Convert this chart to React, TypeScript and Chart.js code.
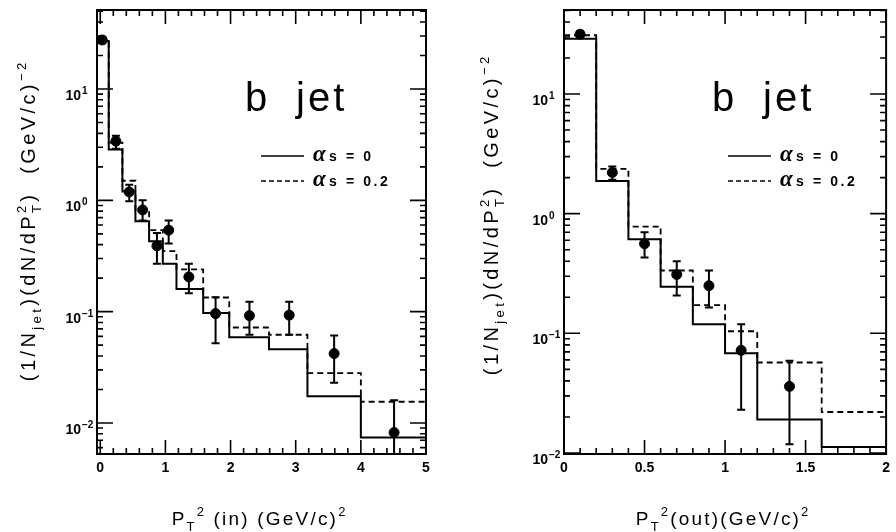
import React, { useEffect, useRef } from "react";
import { Chart, registerables } from "chart.js";
Chart.register(...registerables);

// ---------- data: left panel, PT^2 (in) ----------
const inEdges = [0, 0.13, 0.34, 0.54, 0.75, 0.96, 1.17, 1.58, 1.98, 2.59, 3.18, 4.0, 5.0];
const inSolid = [27, 2.86, 1.2, 0.65, 0.43, 0.27, 0.16, 0.097, 0.059, 0.046, 0.0174, 0.0074];
const inDashed = [27.5, 3.3, 1.5, 0.81, 0.54, 0.35, 0.24, 0.134, 0.072, 0.062, 0.028, 0.0155];
const inPointX = [0.03, 0.24, 0.445, 0.65, 0.87, 1.05, 1.36, 1.77, 2.29, 2.9, 3.59, 4.51];
const inPointY = [27.6, 3.4, 1.19, 0.82, 0.39, 0.54, 0.205, 0.096, 0.092, 0.093, 0.042, 0.0082];
const inErrHigh = [29.5, 3.8, 1.38, 1.0, 0.51, 0.66, 0.27, 0.135, 0.123, 0.123, 0.061, 0.016];
const inErrLow = [25.8, 2.9, 0.98, 0.66, 0.27, 0.41, 0.146, 0.052, 0.062, 0.062, 0.023, 0.004];
const inXTicks = [0, 1, 2, 3, 4, 5];

// ---------- data: right panel, PT^2 (out) ----------
const outEdges = [0, 0.2, 0.4, 0.6, 0.8, 1.0, 1.2, 1.6, 2.0];
const outSolid = [29, 1.88, 0.61, 0.245, 0.119, 0.068, 0.019, 0.0112];
const outDashed = [31, 2.37, 0.78, 0.335, 0.172, 0.104, 0.057, 0.022];
const outPointX = [0.1, 0.3, 0.5, 0.7, 0.9, 1.1, 1.4];
const outPointY = [31.6, 2.21, 0.56, 0.31, 0.25, 0.072, 0.036];
const outErrHigh = [33.5, 2.48, 0.7, 0.4, 0.335, 0.119, 0.059];
const outErrLow = [29.8, 1.92, 0.43, 0.207, 0.164, 0.023, 0.0118];
const outXTicks = [0, 0.5, 1, 1.5, 2];

const yDecades = [0.01, 0.1, 1, 10];
const panelLabel = "b";
const panelLabel2 = "jet";
const legendSolid = "s = 0";
const legendDashed = "s = 0.2";

const FONT = '"Liberation Sans", Arial, Helvetica, sans-serif';

type Seg = { t: string; k: "n" | "sub" | "sup" | "stack" };

const yTitleSegs: Seg[] = [
  { t: "(1/N", k: "n" },
  { t: "jet", k: "sub" },
  { t: ")(dN/dP", k: "n" },
  { t: "T", k: "sub" },
  { t: "2", k: "stack" },
  { t: ")  (GeV/c)", k: "n" },
  { t: "\u22122", k: "sup" },
];
const xTitleIn: Seg[] = [
  { t: "P", k: "n" },
  { t: "T", k: "sub" },
  { t: "2", k: "sup" },
  { t: " (in) (GeV/c)", k: "n" },
  { t: "2", k: "sup" },
];
const xTitleOut: Seg[] = [
  { t: "P", k: "n" },
  { t: "T", k: "sub" },
  { t: "2", k: "sup" },
  { t: "(out)(GeV/c)", k: "n" },
  { t: "2", k: "sup" },
];

function drawRich(ctx: CanvasRenderingContext2D, segs: Seg[], x0: number, y0: number, size: number, spacing: number, weight: string) {
  const items: { ch: string; x: number; dy: number; font: string }[] = [];
  let x = 0;
  let prevStart = 0;
  let prevEnd = 0;
  for (const s of segs) {
    const sz = s.k === "n" ? size : Math.round(size * 0.66);
    const font = `${weight} ${sz}px ${FONT}`;
    ctx.font = font;
    const start = s.k === "stack" ? prevStart : x;
    let cx = start;
    const dy = s.k === "sub" ? size * 0.3 : s.k === "sup" || s.k === "stack" ? -size * 0.45 : 0;
    for (const ch of s.t) {
      items.push({ ch, x: cx, dy, font });
      cx += ctx.measureText(ch).width + spacing;
    }
    if (s.k === "stack") {
      x = Math.max(prevEnd, cx);
    } else {
      prevStart = start;
      prevEnd = cx;
      x = cx;
    }
  }
  const w = x - spacing;
  const off = -w / 2;
  ctx.textAlign = "left";
  ctx.textBaseline = "alphabetic";
  for (const it of items) {
    ctx.font = it.font;
    ctx.fillText(it.ch, x0 + off + it.x, y0 + it.dy);
  }
}

function drawSpaced(ctx: CanvasRenderingContext2D, text: string, x: number, y: number, spacing: number) {
  let cx = x;
  for (const ch of text) {
    ctx.fillText(ch, cx, y);
    cx += ctx.measureText(ch).width + spacing;
  }
  return cx;
}

type Panel = {
  edges: number[];
  solid: number[];
  dashed: number[];
  px: number[];
  py: number[];
  hi: number[];
  lo: number[];
  xTicks: number[];
  xMin: number;
  xMax: number;
  yMin: number;
  yMax: number;
  xMajor: number;
  xMinor: number;
  yWidth: number;
  padRight: number;
  xTitle: Seg[];
  yTitleBase: number;
  yTitleCenter: number;
};

function hist(edges: number[], vals: number[]) {
  return edges.map((e, i) => ({ x: e, y: vals[Math.min(i, vals.length - 1)] }));
}

function makePlugin(p: Panel) {
  return {
    id: "decor",
    afterDatasetsDraw(chart: any) {
      const { ctx, chartArea: a, scales } = chart;
      const xs = scales.x;
      const ys = scales.y;
      // error bars
      ctx.save();
      ctx.beginPath();
      ctx.rect(a.left, a.top, a.right - a.left, a.bottom - a.top);
      ctx.clip();
      ctx.strokeStyle = "#000";
      ctx.lineWidth = 2;
      p.px.forEach((x, i) => {
        const X = xs.getPixelForValue(x);
        const Y1 = ys.getPixelForValue(p.hi[i]);
        const Y2 = ys.getPixelForValue(p.lo[i]);
        ctx.beginPath();
        ctx.moveTo(X, Y1);
        ctx.lineTo(X, Y2);
        ctx.stroke();
        ctx.beginPath();
        ctx.moveTo(X - 4, Y1);
        ctx.lineTo(X + 4, Y1);
        ctx.moveTo(X - 4, Y2);
        ctx.lineTo(X + 4, Y2);
        ctx.stroke();
      });
      ctx.restore();
    },
    afterDraw(chart: any) {
      const { ctx, chartArea: a, scales } = chart;
      const xs = scales.x;
      const ys = scales.y;
      ctx.save();
      ctx.strokeStyle = "#000";
      ctx.fillStyle = "#000";
      ctx.lineWidth = 2;
      ctx.strokeRect(a.left, a.top, a.right - a.left, a.bottom - a.top);
      // x ticks (inward, top and bottom)
      ctx.lineWidth = 1.6;
      const nMinor = Math.round((p.xMax - 0) / p.xMinor);
      for (let i = 0; i <= nMinor; i++) {
        const v = i * p.xMinor;
        if (v < p.xMin || v > p.xMax) continue;
        const X = xs.getPixelForValue(v);
        const isMajor = Math.abs(v / p.xMajor - Math.round(v / p.xMajor)) < 1e-6;
        const L = isMajor ? 14 : 6;
        ctx.beginPath();
        ctx.moveTo(X, a.bottom);
        ctx.lineTo(X, a.bottom - L);
        ctx.moveTo(X, a.top);
        ctx.lineTo(X, a.top + L);
        ctx.stroke();
      }
      // y ticks (inward, left and right)
      for (let d = -3; d <= 2; d++) {
        for (let m = 1; m <= 9; m++) {
          const v = m * Math.pow(10, d);
          if (v < p.yMin || v > p.yMax) continue;
          const Y = ys.getPixelForValue(v);
          const L = m === 1 ? 16 : 6;
          ctx.beginPath();
          ctx.moveTo(a.left, Y);
          ctx.lineTo(a.left + L, Y);
          ctx.moveTo(a.right, Y);
          ctx.lineTo(a.right - L, Y);
          ctx.stroke();
        }
      }
      // y tick labels 10^n
      yDecades.forEach((v) => {
        const Y = ys.getPixelForValue(v);
        const e = Math.round(Math.log10(v));
        ctx.font = `bold 14px ${FONT}`;
        ctx.textAlign = "right";
        ctx.textBaseline = "alphabetic";
        ctx.fillText("10", a.left - 16, Y + 11);
        ctx.font = `bold 10px ${FONT}`;
        ctx.textAlign = "left";
        ctx.fillText(e < 0 ? "\u2212" + String(-e) : String(e), a.left - 15, Y + 5);
      });
      // axis titles
      ctx.save();
      ctx.translate(a.left - p.yTitleBase, p.yTitleCenter);
      ctx.rotate(-Math.PI / 2);
      drawRich(ctx, yTitleSegs, 0, 0, 20, 3.4, "normal");
      ctx.restore();
      drawRich(ctx, p.xTitle, (a.left + a.right) / 2 - 3, 525, 19, 2.2, "normal");
      // panel label
      ctx.font = `normal 40px ${FONT}`;
      ctx.textAlign = "left";
      ctx.textBaseline = "alphabetic";
      ctx.fillText(panelLabel, a.left + 148, a.top + 101);
      drawSpaced(ctx, panelLabel2, a.left + 199, a.top + 101, 3);
      // legend
      const rows = [
        { text: legendSolid, dash: [] as number[] },
        { text: legendDashed, dash: [5, 3] },
      ];
      rows.forEach((r, i) => {
        const ly = a.top + 146 + i * 25;
        ctx.setLineDash(r.dash);
        ctx.lineWidth = 1.6;
        ctx.beginPath();
        ctx.moveTo(a.left + 164, ly);
        ctx.lineTo(a.left + 207, ly);
        ctx.stroke();
        ctx.setLineDash([]);
        ctx.font = `italic bold 23px "Liberation Serif", serif`;
        ctx.fillText("\u03b1", a.left + 216, ly + 5);
        ctx.font = `bold 14px ${FONT}`;
        drawSpaced(ctx, r.text, a.left + 232, ly + 5, 2.6);
      });
      ctx.restore();
    },
  };
}

function makeConfig(p: Panel): any {
  return {
    type: "scatter",
    data: {
      datasets: [
        {
          type: "line",
          data: hist(p.edges, p.solid),
          stepped: true,
          borderColor: "#000",
          borderWidth: 2,
          pointRadius: 0,
          fill: false,
        },
        {
          type: "line",
          data: hist(p.edges, p.dashed),
          stepped: true,
          borderColor: "#000",
          borderWidth: 1.8,
          borderDash: [6, 4],
          pointRadius: 0,
          fill: false,
        },
        {
          type: "scatter",
          data: p.px.map((x, i) => ({ x, y: p.py[i] })),
          pointRadius: 5,
          pointBackgroundColor: "#000",
          pointBorderColor: "#000",
          showLine: false,
        },
      ],
    },
    options: {
      animation: false,
      responsive: false,
      maintainAspectRatio: false,
      layout: { padding: { top: 10, right: p.padRight, left: 0, bottom: 0 } },
      plugins: { legend: { display: false }, tooltip: { enabled: false }, title: { display: false } },
      scales: {
        x: {
          type: "linear",
          min: p.xMin,
          max: p.xMax,
          afterBuildTicks: (s: any) => {
            s.ticks = p.xTicks.map((v) => ({ value: v }));
          },
          ticks: {
            font: { family: FONT, size: 14, weight: "bold" },
            color: "#000",
            padding: 6,
            maxRotation: 0,
            autoSkip: false,
            callback: (v: any) => String(v),
          },
          grid: { display: false, drawTicks: false },
          border: { display: false },
          afterFit: (s: any) => {
            s.height = 78;
          },
        },
        y: {
          type: "logarithmic",
          min: p.yMin,
          max: p.yMax,
          ticks: { display: false },
          grid: { display: false, drawTicks: false },
          border: { display: false },
          afterFit: (s: any) => {
            s.width = p.yWidth;
          },
        },
      },
    },
    plugins: [makePlugin(p)],
  };
}

const leftPanel: Panel = {
  edges: inEdges,
  solid: inSolid,
  dashed: inDashed,
  px: inPointX,
  py: inPointY,
  hi: inErrHigh,
  lo: inErrLow,
  xTicks: inXTicks,
  xMin: -0.05,
  xMax: 5,
  yMin: 0.00526,
  yMax: 51.3,
  xMajor: 1,
  xMinor: 0.2,
  yWidth: 97,
  padRight: 22,
  xTitle: xTitleIn,
  yTitleBase: 62,
  yTitleCenter: 222,
};

const rightPanel: Panel = {
  edges: outEdges,
  solid: outSolid,
  dashed: outDashed,
  px: outPointX,
  py: outPointY,
  hi: outErrHigh,
  lo: outErrLow,
  xTicks: outXTicks,
  xMin: 0,
  xMax: 2,
  yMin: 0.0098,
  yMax: 50.4,
  xMajor: 0.5,
  xMinor: 0.1,
  yWidth: 116,
  padRight: 4,
  xTitle: xTitleOut,
  yTitleBase: 66,
  yTitleCenter: 216,
};

function PanelChart({ panel, left }: { panel: Panel; left: number }) {
  const ref = useRef<HTMLCanvasElement>(null);
  useEffect(() => {
    if (!ref.current) return;
    const chart = new Chart(ref.current, makeConfig(panel));
    return () => chart.destroy();
  }, [panel]);
  return (
    <canvas
      ref={ref}
      width={448}
      height={532}
      style={{ position: "absolute", left, top: 0, width: 448, height: 532 }}
    />
  );
}

export default function App() {
  return (
    <div style={{ position: "absolute", left: 0, top: 0, width: 896, height: 532, background: "#fff", overflow: "hidden" }}>
      <PanelChart panel={leftPanel} left={0} />
      <PanelChart panel={rightPanel} left={448} />
    </div>
  );
}
